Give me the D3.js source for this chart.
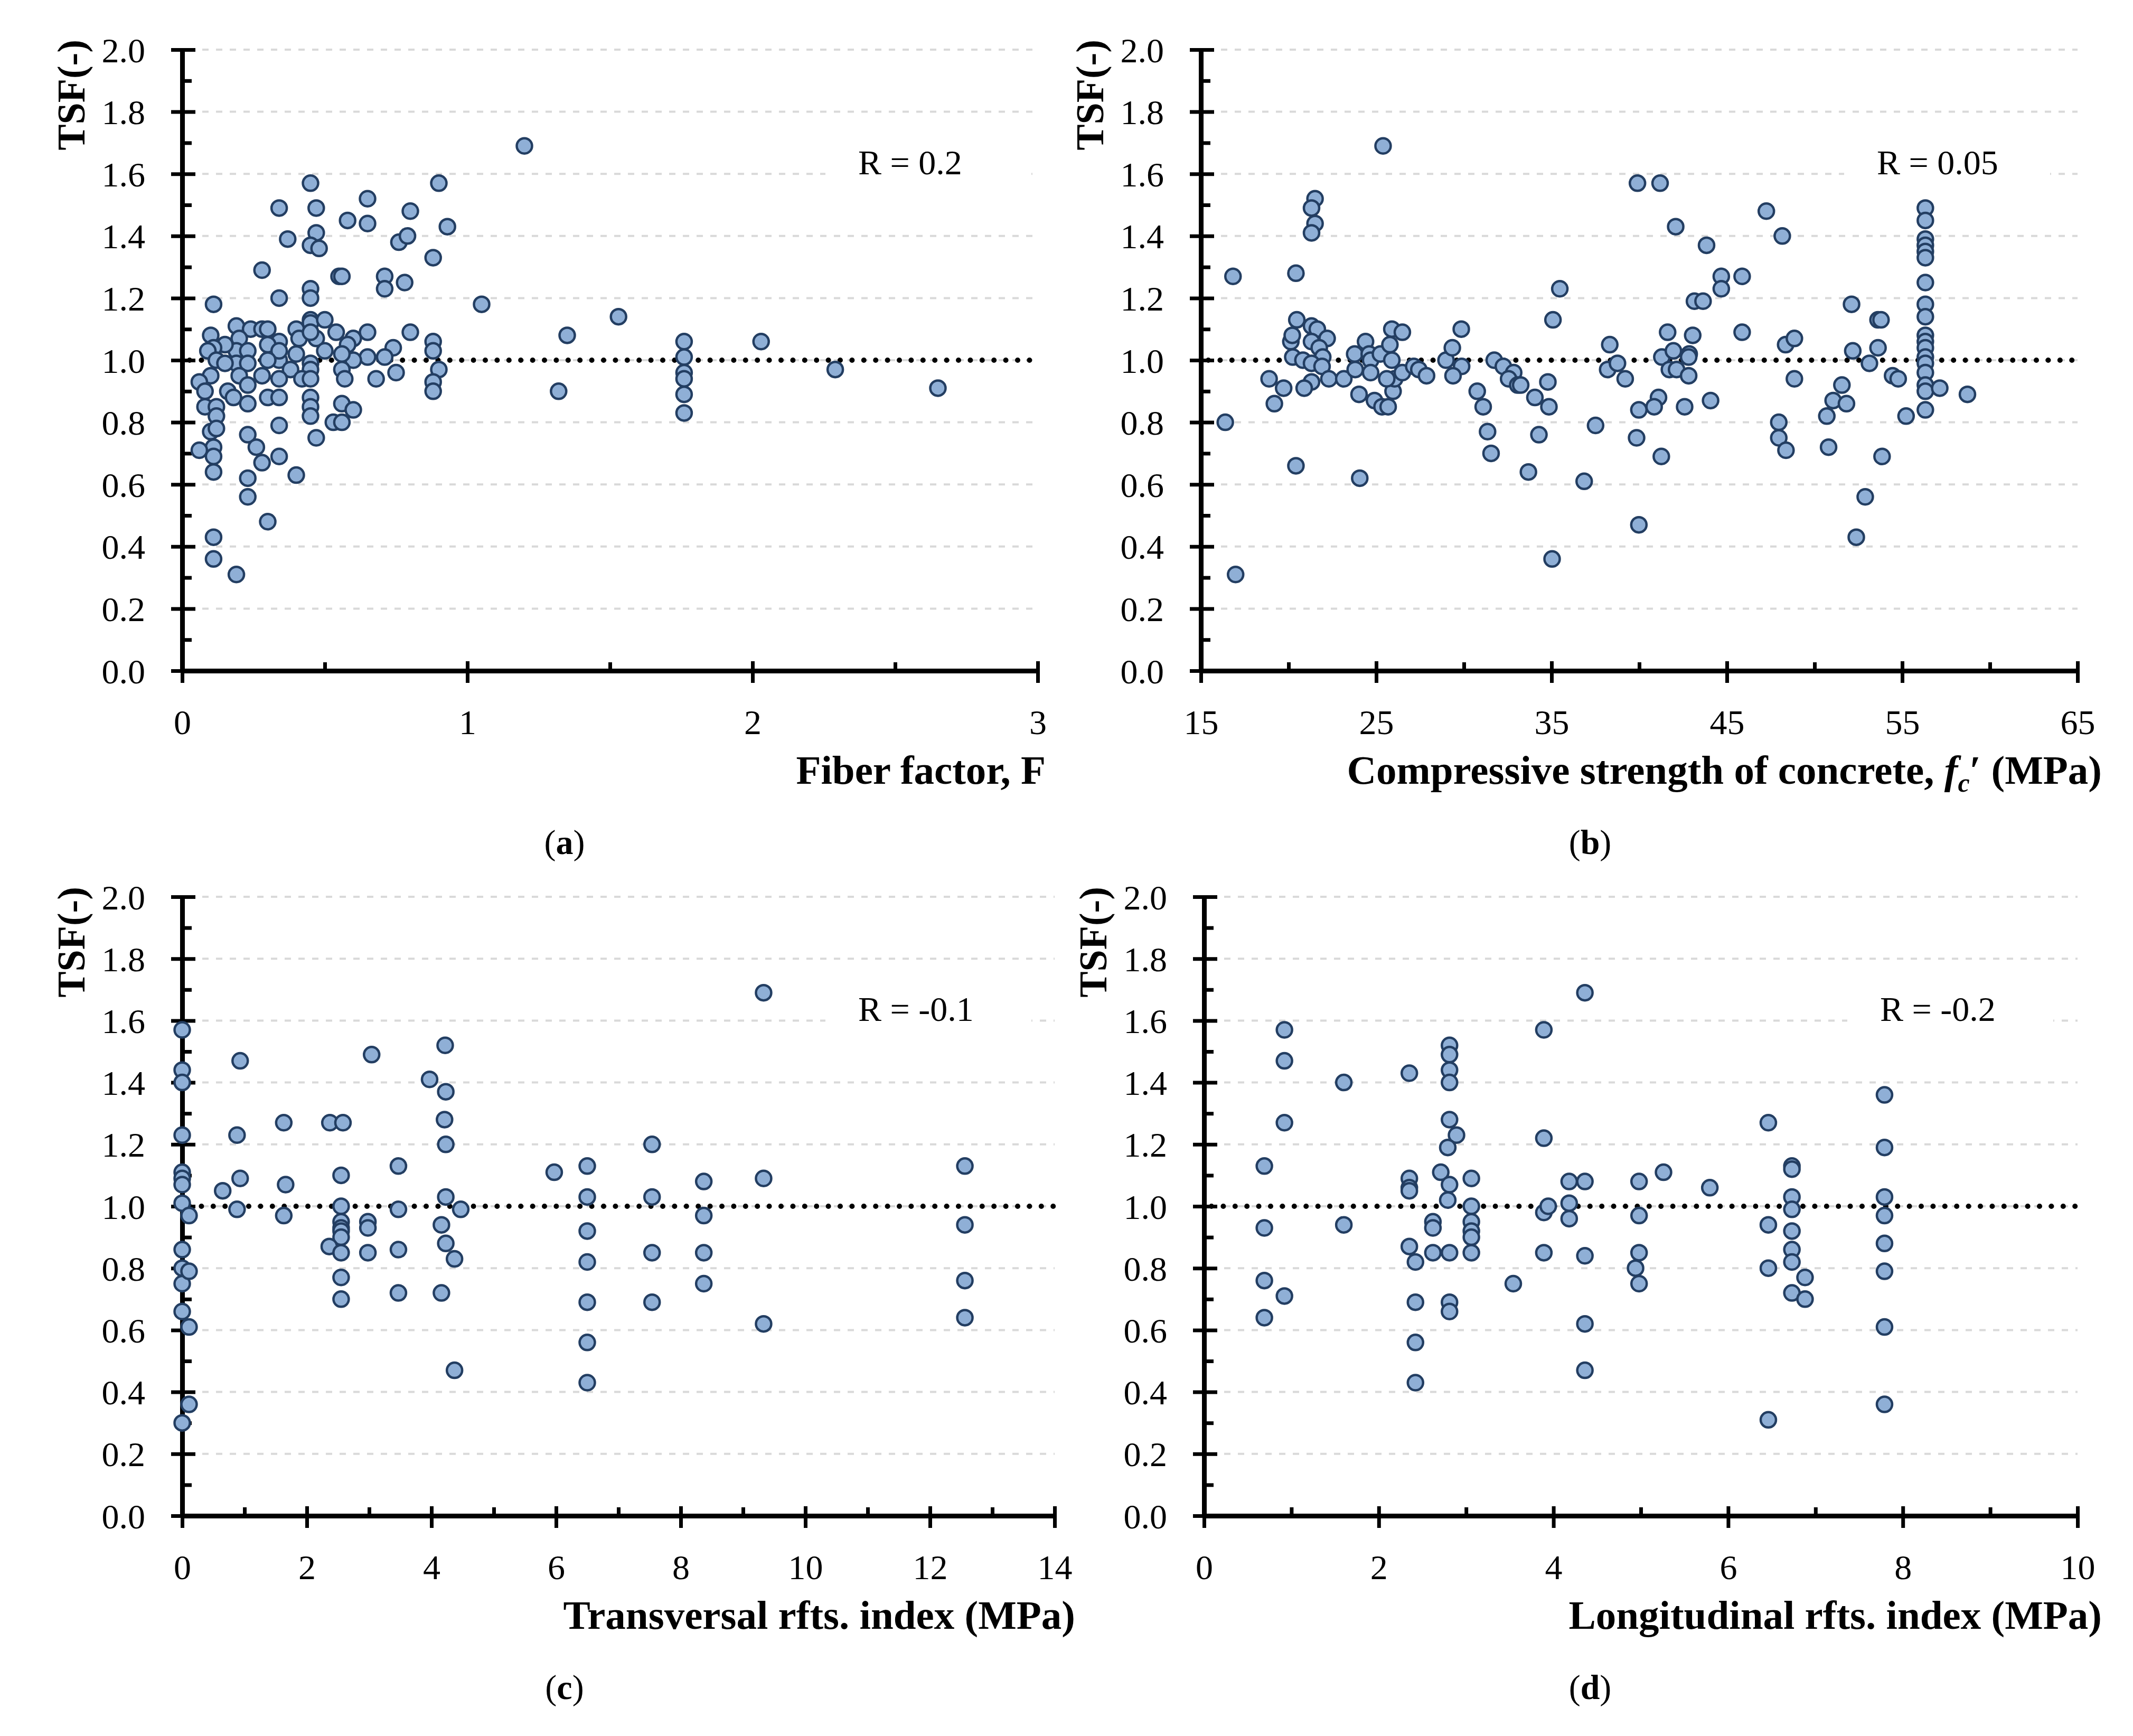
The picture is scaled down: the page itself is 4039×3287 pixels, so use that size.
<!DOCTYPE html>
<html>
<head>
<meta charset="utf-8">
<script src="https://cdn.jsdelivr.net/npm/d3@7"></script>
<style>
  body { margin: 0; background: #fff; }
  text { font-family: "Liberation Serif", "Times New Roman", serif; fill: #000; }
</style>
</head>
<body>
<svg id="chart"></svg>
<script>
const width = 4039;
const height = 3287;

// (a) fiber factor F vs TSF
const fiberX = [0.45,0.34,0.47,0.65,0.80,0.90,0.93,0.58,0.65,0.37,0.47,0.45,0.48,0.76,0.79,0.88,0.28,0.55,0.56,0.71,
  0.71,0.78,0.45,0.45,0.34,0.11,1.05,0.45,0.45,0.50,0.19,0.24,0.28,0.30,0.10,0.40,0.41,0.47,0.45,0.54,
  0.60,0.65,0.80,0.88,0.88,0.74,0.71,0.65,0.58,0.60,0.56,0.50,0.40,0.34,0.30,0.34,0.34,0.30,0.20,0.19,
  0.23,0.15,0.11,0.09,0.12,0.19,0.23,0.15,0.38,0.45,0.45,0.28,0.20,0.10,0.23,0.34,0.42,0.45,0.56,0.57,
  0.68,0.75,0.90,0.88,0.88,0.06,0.08,0.16,0.18,0.08,0.12,0.12,0.23,0.30,0.34,0.45,0.45,0.45,0.56,0.60,
  0.34,0.53,0.56,0.47,0.10,0.12,0.11,0.06,0.11,0.11,0.23,0.26,0.28,0.34,0.40,0.23,0.23,0.30,0.11,0.11,
  0.19,1.20,1.35,1.53,1.32,1.76,1.76,1.76,1.76,1.76,1.76,2.03,2.29,2.65];
const fiberTSF = [1.57,1.49,1.49,1.52,1.48,1.57,1.43,1.45,1.44,1.39,1.41,1.37,1.36,1.38,1.40,1.33,1.29,1.27,1.27,1.27,
  1.23,1.25,1.23,1.20,1.20,1.18,1.18,1.13,1.12,1.13,1.11,1.10,1.10,1.10,1.08,1.10,1.07,1.07,1.09,1.09,
  1.07,1.09,1.09,1.06,1.03,1.04,1.01,1.01,1.05,1.00,1.02,1.03,1.02,1.06,1.05,1.00,1.03,1.00,1.07,1.03,
  1.03,1.05,1.04,1.03,1.00,0.99,0.99,0.99,0.97,0.99,0.97,0.95,0.95,0.95,0.92,0.94,0.94,0.94,0.97,0.94,
  0.94,0.96,0.97,0.93,0.90,0.93,0.90,0.90,0.88,0.85,0.85,0.82,0.86,0.88,0.88,0.88,0.85,0.82,0.86,0.84,
  0.79,0.80,0.80,0.75,0.77,0.78,0.72,0.71,0.69,0.64,0.76,0.72,0.67,0.69,0.63,0.62,0.56,0.48,0.43,0.36,
  0.31,1.69,1.08,1.14,0.90,1.06,1.01,0.96,0.94,0.89,0.83,1.06,0.97,0.91];

// (b) compressive strength fc' (MPa) vs TSF
const fcX = [25.39,39.9,21.51,21.31,21.51,21.31,16.83,20.42,35.47,35.08,20.47,21.31,21.64,22.2,20.13,20.21,20.24,20.82,21.31,21.75,
  21.95,21.31,21.91,22.3,21.31,20.89,18.89,19.72,19.19,16.39,20.42,16.98,23.15,23.8,23.77,24.39,24.6,24.68,25.24,25.89,
  26.49,25.78,25.89,24.68,24.02,24.9,25.33,25.68,25.96,26.05,25.6,26.49,27.14,27.43,27.87,24.06,28.98,29.34,29.85,29.87,
  29.38,30.76,31.1,31.35,31.55,31.73,32.25,32.84,32.55,33.07,33.24,34.05,34.79,34.85,34.28,33.68,35.03,38.32,38.2,38.76,
  39.2,37.51,36.86,39.98,39.85,39.98,41.19,42.08,43.84,47.25,48.16,44.68,45.87,44.68,43.15,43.64,41.62,43.05,45.87,41.29,
  41.95,42.85,42.82,41.72,42.13,42.82,41.1,40.85,41.26,42.59,44.07,48.35,48.85,48.85,47.96,47.96,48.37,50.7,50.8,51.06,
  51.56,51.82,52.11,52.18,52.89,52.38,53.13,53.62,53.79,53.62,53.85,54.45,54.77,55.22,
  56.32,56.32,56.32,56.32,56.32,56.32,56.32,56.32,56.32,56.32,56.32,56.32,56.32,56.32,56.32,56.32,56.32,56.32,
  57.14,58.72];
const fcTSF = [1.69,1.57,1.52,1.49,1.44,1.41,1.27,1.28,1.23,1.13,1.13,1.11,1.10,1.07,1.06,1.08,1.01,1.00,1.06,1.04,
  1.01,0.99,0.98,0.94,0.93,0.91,0.94,0.91,0.86,0.80,0.66,0.31,0.94,0.97,1.02,1.06,1.02,1.00,1.02,1.10,
  1.09,1.05,1.00,0.96,0.89,0.87,0.85,0.85,0.90,0.94,0.94,0.96,0.98,0.97,0.95,0.62,1.00,1.04,1.10,0.98,
  0.95,0.90,0.85,0.77,0.70,1.00,0.98,0.96,0.94,0.92,0.92,0.88,0.93,0.85,0.76,0.64,0.36,1.05,0.97,0.99,
  0.94,0.79,0.61,0.84,0.75,0.47,1.57,1.43,1.37,1.48,1.40,1.27,1.27,1.23,1.19,1.19,1.09,1.08,1.09,1.01,
  1.03,1.02,1.01,0.97,0.97,0.95,0.88,0.85,0.69,0.85,0.87,1.05,1.07,0.94,0.80,0.75,0.71,0.82,0.72,0.87,
  0.92,0.86,1.18,1.03,0.56,0.43,0.99,1.13,1.13,1.04,0.69,0.95,0.94,0.82,
  1.49,1.45,1.39,1.37,1.35,1.33,1.25,1.18,1.14,1.08,1.06,1.04,1.01,0.99,0.96,0.92,0.90,0.84,
  0.91,0.89];

// (c) transversal reinforcement index (MPa) vs TSF
const transX = [0,0,0,0,0,0,0,0,0,0,0,0,0,0.11,0.11,0.11,0.11,0.65,0.93,0.88,
  0.93,0.88,1.63,1.66,1.63,2.37,2.58,3.04,2.55,2.55,2.55,2.55,2.55,2.55,2.36,2.55,2.55,2.55,2.98,2.98,
  2.98,3.47,3.47,3.47,3.47,4.22,3.97,4.23,4.21,4.23,4.23,4.47,4.16,4.23,4.37,4.16,4.37,5.97,
  6.5,6.5,6.5,6.5,6.5,6.5,6.5,7.54,7.54,7.54,7.54,8.37,8.37,8.37,8.37,9.33,9.33,9.33,
  12.56,12.56,12.56,12.56];
const transTSF = [1.57,1.44,1.40,1.23,1.11,1.09,1.07,1.01,0.86,0.80,0.75,0.66,0.30,0.97,0.79,0.61,0.36,1.05,1.47,1.23,
  1.09,0.99,1.27,1.07,0.97,1.27,1.27,1.49,1.10,1.00,0.95,0.93,0.92,0.90,0.87,0.85,0.77,0.70,0.95,0.93,
  0.85,1.13,0.99,0.86,0.72,1.52,1.41,1.37,1.28,1.20,1.03,0.99,0.94,0.88,0.83,0.72,0.47,1.11,
  1.13,1.03,0.92,0.82,0.69,0.56,0.43,1.20,1.03,0.85,0.69,1.08,0.97,0.85,0.75,1.69,1.09,0.62,
  1.13,0.94,0.76,0.64];

// (d) longitudinal reinforcement index (MPa) vs TSF
const longX = [0.69,0.69,0.69,0.69,0.92,0.92,0.92,0.92,1.6,1.6,2.35,2.35,2.35,2.35,2.35,2.42,2.42,2.42,2.42,2.62,
  2.62,2.62,2.71,2.81,2.81,2.81,2.81,2.81,2.89,2.79,2.81,2.79,2.81,2.81,2.81,3.06,3.06,3.06,3.06,3.06,
  3.06,3.54,3.89,3.89,3.89,3.94,3.89,4.18,4.18,4.18,4.36,4.36,4.36,4.36,4.36,4.98,4.98,4.98,4.94,4.98,
  5.26,5.79,6.46,6.46,6.46,6.46,6.73,6.73,6.73,6.73,6.73,6.73,6.73,6.88,6.73,6.88,
  7.79,7.79,7.79,7.79,7.79,7.79,7.79,7.79];
const longTSF = [1.13,0.93,0.76,0.64,1.57,1.47,1.27,0.71,1.40,0.94,1.43,1.09,1.06,1.05,0.87,0.82,0.69,0.56,0.43,0.95,
  0.93,0.85,1.11,1.52,1.49,1.44,1.40,1.28,1.23,1.19,1.07,1.02,0.85,0.69,0.66,1.09,1.00,0.95,0.92,0.90,
  0.85,0.75,1.57,1.22,0.98,1.00,0.85,1.08,1.01,0.96,1.69,1.08,0.84,0.62,0.47,1.08,0.97,0.85,0.80,0.75,
  1.11,1.06,1.27,0.94,0.80,0.31,1.13,1.12,1.03,0.99,0.92,0.86,0.82,0.77,0.72,0.70,
  1.36,1.19,1.03,0.97,0.88,0.79,0.61,0.36];

// axes and labels
const tsfTicks = [0, 0.2, 0.4, 0.6, 0.8, 1.0, 1.2, 1.4, 1.6, 1.8, 2.0];
const tsfMinor = [0.1, 0.3, 0.5, 0.7, 0.9, 1.1, 1.3, 1.5, 1.7, 1.9];
const fiberTicks = [0, 1, 2, 3];
const fiberMinor = [0.5, 1.5, 2.5];
const fcTicks = [15, 25, 35, 45, 55, 65];
const fcMinor = [20, 30, 40, 50, 60];
const transTicks = [0, 2, 4, 6, 8, 10, 12, 14];
const transMinor = [1, 3, 5, 7, 9, 11, 13];
const longTicks = [0, 2, 4, 6, 8, 10];
const longMinor = [1, 3, 5, 7, 9];
const rLabels = ["R = 0.2", "R = 0.05", "R = -0.1", "R = -0.2"];
const panelLetters = ["a", "b", "c", "d"];

const panels = [
  { xs: fiberX, ys: fiberTSF, domain: [0, 3], ticks: fiberTicks, minor: fiberMinor,
    left: 345, right: 1965, top: 94, bottom: 1270, labelCx: 1069, titleRight: 1980, title: "fiber" },
  { xs: fcX, ys: fcTSF, domain: [15, 65], ticks: fcTicks, minor: fcMinor,
    left: 2274, right: 3934, top: 94, bottom: 1270, labelCx: 3011, titleRight: 3980, title: "fc" },
  { xs: transX, ys: transTSF, domain: [0, 14], ticks: transTicks, minor: transMinor,
    left: 345, right: 1997, top: 1698, bottom: 2870, labelCx: 1069, titleRight: 2036, title: "trans" },
  { xs: longX, ys: longTSF, domain: [0, 10], ticks: longTicks, minor: longMinor,
    left: 2280, right: 3934, top: 1698, bottom: 2870, labelCx: 3011, titleRight: 3980, title: "long" }
];

const svg = d3.select("#chart")
  .attr("width", width)
  .attr("height", height)
  .style("display", "block");

svg.append("rect").attr("width", width).attr("height", height).attr("fill", "#fff");

panels.forEach(function(p, i) {
  const x = d3.scaleLinear().domain(p.domain).range([p.left, p.right]);
  const y = d3.scaleLinear().domain([0, 2]).range([p.bottom, p.top]);
  const g = svg.append("g");

  // dashed grid
  g.selectAll("line.grid")
    .data(tsfTicks.filter(d => d > 0))
    .join("line")
    .attr("class", "grid")
    .attr("x1", p.left + 12).attr("x2", p.right)
    .attr("y1", d => y(d)).attr("y2", d => y(d))
    .attr("stroke", "#d9d9d9")
    .attr("stroke-width", 4)
    .attr("stroke-dasharray", "12,14");

  // R label with white box over the grid
  const rx = p.left + 1280;
  const ry = y(1.6) + 1;
  g.append("rect")
    .attr("x", rx - 62).attr("y", ry - 60)
    .attr("width", 390).attr("height", 70)
    .attr("fill", "#fff");
  g.append("text")
    .attr("x", rx).attr("y", ry)
    .style("font-size", "66px")
    .text(rLabels[i]);

  // reference line TSF = 1
  g.append("line")
    .attr("x1", p.left + 14).attr("x2", p.right)
    .attr("y1", y(1)).attr("y2", y(1))
    .attr("stroke", "#000")
    .attr("stroke-width", 10)
    .attr("stroke-linecap", "round")
    .attr("stroke-dasharray", "0,22.4");

  // x axis
  const xAxis = g.append("g")
    .attr("transform", `translate(0,${p.bottom})`)
    .call(d3.axisBottom(x).tickValues(p.ticks).tickFormat(d3.format("d")).tickSizeOuter(0))
    .attr("font-family", null).attr("font-size", null);
  xAxis.select(".domain").attr("stroke-width", 9);
  xAxis.selectAll(".tick line").attr("y1", -18).attr("y2", 23).attr("stroke-width", 7);
  xAxis.selectAll(".tick text")
    .attr("y", 120).attr("dy", null)
    .style("font-size", "66px");

  const xMinor = g.append("g")
    .attr("transform", `translate(0,${p.bottom})`)
    .call(d3.axisBottom(x).tickValues(p.minor).tickFormat("").tickSizeOuter(0));
  xMinor.select(".domain").remove();
  xMinor.selectAll(".tick line").attr("y1", -16).attr("y2", 0).attr("stroke-width", 7);

  // y axis
  const yAxis = g.append("g")
    .attr("transform", `translate(${p.left},0)`)
    .call(d3.axisLeft(y).tickValues(tsfTicks).tickFormat(d3.format(".1f")).tickSizeOuter(0))
    .attr("font-family", null).attr("font-size", null);
  yAxis.select(".domain").attr("stroke-width", 9);
  yAxis.selectAll(".tick line").attr("x1", 25).attr("x2", -21).attr("stroke-width", 7);
  yAxis.selectAll(".tick text")
    .attr("x", -70).attr("dy", "0.35em")
    .style("font-size", "66px");

  const yMinor = g.append("g")
    .attr("transform", `translate(${p.left},0)`)
    .call(d3.axisLeft(y).tickValues(tsfMinor).tickFormat("").tickSizeOuter(0));
  yMinor.select(".domain").remove();
  yMinor.selectAll(".tick line").attr("x1", 0).attr("x2", 18).attr("stroke-width", 7);

  // y title
  g.append("text")
    .attr("transform", `translate(${p.left - 185},${p.top + 86}) rotate(-90)`)
    .attr("text-anchor", "middle")
    .style("font-size", "74px").style("font-weight", "bold")
    .text("TSF(-)");

  // x title
  const t = g.append("text")
    .attr("x", p.titleRight).attr("y", p.bottom + 214)
    .attr("text-anchor", "end")
    .style("font-size", "77px").style("font-weight", "bold");
  if (p.title === "fiber") t.text("Fiber factor, F");
  if (p.title === "trans") t.text("Transversal rfts. index (MPa)");
  if (p.title === "long") t.text("Longitudinal rfts. index (MPa)");
  if (p.title === "fc") {
    t.append("tspan").text("Compressive strength of concrete, ");
    t.append("tspan").style("font-style", "italic").text("f");
    t.append("tspan").style("font-style", "italic").style("font-size", "50px").attr("dy", 15).text("c");
    t.append("tspan").attr("dy", -15).text("\u2032 (MPa)");
  }

  // panel letter
  const pl = g.append("text")
    .attr("x", p.labelCx).attr("y", p.bottom + 347)
    .attr("text-anchor", "middle")
    .style("font-size", "66px");
  pl.append("tspan").text("(");
  pl.append("tspan").style("font-weight", "bold").text(panelLetters[i]);
  pl.append("tspan").text(")");

  // points
  g.selectAll("circle")
    .data(p.xs.map((d, k) => [d, p.ys[k]]))
    .join("circle")
    .attr("cx", d => x(d[0]))
    .attr("cy", d => y(d[1]))
    .attr("r", 14.5)
    .attr("fill", "#8fafd6")
    .attr("stroke", "#233e62")
    .attr("stroke-width", 4.5);
});
</script>
</body>
</html>
